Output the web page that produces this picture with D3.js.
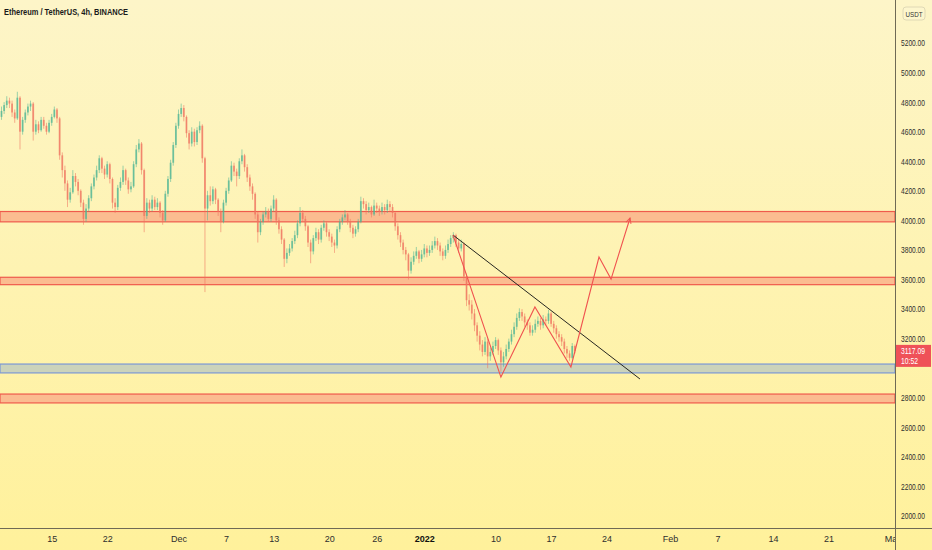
<!DOCTYPE html>
<html>
<head>
<meta charset="utf-8">
<script src="https://cdn.jsdelivr.net/npm/d3@7"></script>
<style>
  body { margin: 0; background: #fdf4c4; }
  svg { display: block; }
  .ax text { font-family: "Liberation Sans", Arial, sans-serif; font-size: 9px; fill: #2e2e2e; }
</style>
</head>
<body>
<script>
// ETH/USDT 4h chart, candles at 8h steps
const title = 'Ethereum / TetherUS, 4h, BINANCE'
const firstCandle = Date.UTC(2021, 10, 8, 16)
const stepHours = 8

const opens = [4700,4740,4780,4810,4790,4730,4690,4830,4600,4680,4730,4770,4790,4600,4650,4610,4680,4640,4600,4660,
  4700,4750,4690,4440,4340,4250,4140,4190,4300,4260,4200,4120,4010,4080,4150,4230,4290,4340,4420,4350,
  4310,4380,4280,4120,4090,4220,4260,4340,4270,4210,4230,4380,4480,4520,4340,4030,4120,4080,4140,4090,
  4120,4050,4000,4180,4280,4390,4510,4640,4720,4760,4700,4590,4520,4600,4530,4610,4640,4420,4080,4170,
  4130,4210,4140,4060,3990,4120,4200,4270,4370,4330,4300,4400,4440,4360,4290,4230,4180,4040,3920,3990,
  4040,4060,4010,4080,4140,4000,3940,3870,3740,3780,3810,3860,3900,3980,4050,4010,3960,3850,3790,3880,
  3920,3870,3950,3980,3920,3890,3850,3830,3940,3990,4020,4040,3990,3950,3910,3940,3990,4130,4110,4070,
  4090,4040,4100,4080,4060,4090,4070,4110,4090,4050,3960,3900,3850,3800,3770,3660,3720,3760,3790,3740,
  3770,3810,3780,3800,3830,3860,3830,3790,3760,3800,3840,3880,3900,3850,3810,3840,3620,3460,3430,3370,
  3290,3220,3160,3110,3180,3080,3110,3150,3190,3120,3040,3080,3130,3180,3230,3280,3340,3380,3350,3310,
  3290,3240,3260,3300,3320,3290,3330,3320,3370,3300,3270,3230,3210,3180,3130,3100,3070,3150]
const closes = [4740,4780,4810,4790,4730,4690,4830,4600,4680,4730,4770,4790,4600,4650,4610,4680,4640,4600,4660,4700,
  4750,4690,4440,4340,4250,4140,4190,4300,4260,4200,4120,4010,4080,4150,4230,4290,4340,4420,4350,4310,
  4380,4280,4120,4090,4220,4260,4340,4270,4210,4230,4380,4480,4520,4340,4030,4120,4080,4140,4090,4120,
  4050,4000,4180,4280,4390,4510,4640,4720,4760,4700,4590,4520,4600,4530,4610,4640,4420,4080,4170,4130,
  4210,4140,4060,3990,4120,4200,4270,4370,4330,4300,4400,4440,4360,4290,4230,4180,4040,3920,3990,4040,
  4060,4010,4080,4140,4000,3940,3870,3740,3780,3810,3860,3900,3980,4050,4010,3960,3850,3790,3880,3920,
  3870,3950,3980,3920,3890,3850,3830,3940,3990,4020,4040,3990,3950,3910,3940,3990,4130,4110,4070,4090,
  4040,4100,4080,4060,4090,4070,4110,4090,4050,3960,3900,3850,3800,3770,3660,3720,3760,3790,3740,3770,
  3810,3780,3800,3830,3860,3830,3790,3760,3800,3840,3880,3900,3850,3810,3840,3620,3460,3430,3370,3290,
  3220,3160,3110,3180,3080,3110,3150,3190,3120,3040,3080,3130,3180,3230,3280,3340,3380,3350,3310,3290,
  3240,3260,3300,3320,3290,3330,3320,3370,3300,3270,3230,3210,3180,3130,3100,3070,3150,3117]
const highs = [4770,4800,4840,4830,4810,4750,4870,4840,4700,4750,4790,4810,4800,4680,4670,4700,4700,4660,4680,4720,
  4770,4760,4700,4460,4370,4270,4220,4340,4320,4280,4210,4140,4110,4170,4250,4310,4370,4440,4430,4370,
  4400,4390,4290,4150,4240,4290,4370,4350,4290,4260,4400,4510,4550,4530,4350,4150,4140,4170,4160,4150,
  4130,4070,4200,4300,4410,4530,4660,4750,4790,4780,4710,4610,4630,4620,4630,4670,4650,4430,4200,4230,
  4230,4220,4150,4080,4140,4220,4290,4400,4390,4350,4420,4480,4450,4380,4310,4250,4190,4060,4010,4060,
  4090,4080,4100,4170,4150,4020,3960,3880,3810,3840,3880,3930,4000,4090,4070,4030,3970,3870,3900,3950,
  3940,3970,4000,3990,3940,3910,3870,3960,4010,4040,4070,4050,4010,3970,3960,4010,4160,4150,4130,4120,
  4100,4140,4120,4100,4120,4110,4140,4130,4110,4060,3980,3920,3870,3820,3780,3750,3790,3820,3800,3800,
  3840,3830,3830,3860,3890,3880,3850,3810,3830,3870,3900,3920,3910,3870,3870,3850,3640,3500,3460,3400,
  3310,3250,3190,3210,3200,3140,3180,3210,3200,3140,3110,3160,3200,3260,3310,3370,3405,3400,3370,3330,
  3310,3290,3330,3350,3340,3360,3350,3395,3380,3320,3290,3250,3230,3200,3150,3120,3170,3160]
const lows = [4680,4720,4760,4760,4700,4660,4680,4480,4580,4660,4710,4740,4540,4580,4590,4600,4620,4580,4590,4640,
  4690,4660,4410,4290,4200,4090,4120,4180,4230,4170,4090,3970,3990,4060,4130,4210,4270,4320,4320,4280,
  4290,4250,4080,4050,4070,4200,4240,4240,4180,4190,4220,4360,4460,4310,3920,4010,4050,4060,4070,4070,
  4020,3970,3990,4160,4260,4370,4490,4620,4700,4670,4560,4480,4500,4500,4510,4590,4390,3515,4000,4100,
  4110,4110,4030,3920,3980,4100,4180,4260,4300,4230,4280,4380,4330,4260,4200,4140,4010,3850,3900,3970,
  4020,3990,3990,4060,3970,3910,3840,3685,3710,3760,3790,3840,3880,3960,3990,3930,3820,3710,3770,3860,
  3840,3850,3930,3890,3860,3820,3780,3810,3920,3970,4000,3970,3920,3880,3890,3920,3980,4080,4040,4050,
  4020,4030,4050,4030,4040,4040,4050,4060,4020,3930,3870,3820,3770,3730,3600,3640,3700,3740,3710,3720,
  3750,3750,3760,3780,3810,3800,3760,3730,3740,3780,3820,3850,3820,3780,3790,3590,3420,3390,3330,3250,
  3180,3120,3080,3090,3000,3050,3090,3130,3090,2975,3010,3060,3110,3160,3210,3260,3320,3320,3280,3260,
  3220,3220,3240,3280,3260,3270,3290,3300,3280,3240,3200,3180,3150,3100,3070,3050,3060,3100]

// horizontal zones [low, high]
const supplyZones = [[3990, 4060], [3565, 3615], [2765, 2825]]
const supportZone = [2968, 3028]

// descending trendline and projected path
const trendLine = [['2022-01-04T15:00', 3901], ['2022-01-28T05:00', 2927]]
const pathPoints = [['2022-01-04T15:00', 3901], ['2022-01-10T16:00', 2940], ['2022-01-14T23:00', 3414],
  ['2022-01-19T12:00', 3008], ['2022-01-23T01:00', 3752], ['2022-01-24T13:30', 3603], ['2022-01-26T23:00', 4016]]

// 3000 and 5400 sit under the price tag and the currency tag
const yTicks = [2000,2200,2400,2600,2800,3200,3400,3600,3800,4000,4200,4400,4600,4800,5000,5200]
const xTickDates = ['2021-11-15','2021-11-22','2021-12-01','2021-12-07','2021-12-13','2021-12-20','2021-12-26',
  '2022-01-01','2022-01-10','2022-01-17','2022-01-24','2022-02-01','2022-02-07','2022-02-14','2022-02-21','2022-03-01']
const xTickLabels = ['15','22','Dec','7','13','20','26','2022','10','17','24','Feb','7','14','21','Mar']
const lastPrice = 3117.09
const countdown = '10:52'

const w = 932, h = 550
const plotW = 895, plotH = 528
const narrow = '"Liberation Sans", Arial, sans-serif'

const svg = d3.select('body').append('svg').attr('width', w).attr('height', h)
const defs = svg.append('defs')
const grad = defs.append('linearGradient').attr('id', 'bg').attr('x1', 0).attr('y1', 0).attr('x2', 0).attr('y2', 1)
grad.append('stop').attr('offset', '0%').attr('stop-color', '#fdf5c8')
grad.append('stop').attr('offset', '100%').attr('stop-color', '#fff19b')
defs.append('clipPath').attr('id', 'plot').append('rect').attr('width', plotW).attr('height', plotH)
defs.append('clipPath').attr('id', 'xlab').append('rect').attr('width', plotW).attr('height', h)
defs.append('marker').attr('id', 'arrow').attr('viewBox', '0 0 10 10').attr('refX', 9).attr('refY', 5)
  .attr('markerWidth', 6).attr('markerHeight', 6).attr('orient', 'auto-start-reverse')
  .append('path').attr('d', 'M1,1 L9,5 L1,9').attr('fill', 'none').attr('stroke', '#f0524f').attr('stroke-width', 1.4)

svg.append('rect').attr('width', w).attr('height', h).attr('fill', 'url(#bg)')

const xScale = d3.scaleUtc().domain([Date.UTC(2021, 10, 15), Date.UTC(2022, 1, 1)]).range([51.7, 670])
const yScale = d3.scaleLinear().domain([2000, 5200]).range([516, 43])
const candleDate = i => new Date(firstCandle + i * stepHours * 3600e3)
const parse = s => new Date(s + 'Z')

const plot = svg.append('g').attr('clip-path', 'url(#plot)')

// zones
plot.selectAll('rect.zone')
  .data(supplyZones)
  .enter()
  .append('rect')
  .attr('class', 'zone')
  .attr('x', 0)
  .attr('width', plotW)
  .attr('y', d => yScale(d[1]))
  .attr('height', d => yScale(d[0]) - yScale(d[1]))
  .attr('fill', '#fbbc90')
  .attr('stroke', '#ef5a4c')
  .attr('stroke-width', 1.2)
plot.append('rect')
  .attr('x', 0)
  .attr('width', plotW)
  .attr('y', yScale(supportZone[1]))
  .attr('height', yScale(supportZone[0]) - yScale(supportZone[1]))
  .attr('fill', '#cbd3bb')
  .attr('stroke', '#7b98d4')
  .attr('stroke-width', 1.2)

// candles
const candles = plot.append('g')
  .selectAll('g')
  .data(closes)
  .enter()
  .append('g')
const color = (d, i) => d >= opens[i] ? '#4fb594' : '#f0735f'
candles.append('line')
  .attr('x1', (d, i) => xScale(candleDate(i)))
  .attr('x2', (d, i) => xScale(candleDate(i)))
  .attr('y1', (d, i) => yScale(highs[i]))
  .attr('y2', (d, i) => yScale(lows[i]))
  .attr('stroke', color)
  .attr('stroke-width', 0.8)
  .attr('opacity', 0.7)
candles.append('rect')
  .attr('x', (d, i) => xScale(candleDate(i)) - 0.9)
  .attr('width', 1.8)
  .attr('y', (d, i) => yScale(Math.max(d, opens[i])))
  .attr('height', (d, i) => Math.max(0.8, Math.abs(yScale(d) - yScale(opens[i]))))
  .attr('fill', color)
  .attr('opacity', 0.7)

// drawings
const line = d3.line().x(d => xScale(parse(d[0]))).y(d => yScale(d[1]))
plot.append('path').attr('d', line(trendLine)).attr('fill', 'none').attr('stroke', '#262620').attr('stroke-width', 1)
plot.append('path').attr('d', line(pathPoints)).attr('fill', 'none').attr('stroke', '#f0524f')
  .attr('stroke-width', 1.1).attr('marker-end', 'url(#arrow)')

// axes
const yAxis = d3.axisRight(yScale).tickValues(yTicks).tickSize(0).tickPadding(6).tickFormat(d => d.toFixed(2))
const yg = svg.append('g').attr('class', 'ax').attr('transform', 'translate(' + plotW + ',0)').call(yAxis)
yg.select('.domain').remove()
yg.selectAll('text').attr('textLength', 24).attr('lengthAdjust', 'spacingAndGlyphs')
const xAxis = d3.axisBottom(xScale).tickValues(xTickDates.map(parse)).tickSize(0).tickPadding(8)
  .tickFormat((d, i) => xTickLabels[i])
const xg = svg.append('g').attr('class', 'ax').attr('clip-path', 'url(#xlab)')
  .append('g').attr('transform', 'translate(0,' + plotH + ')').call(xAxis)
xg.select('.domain').remove()
xg.selectAll('text').filter((d, i) => xTickLabels[i] === '2022').style('font-weight', 'bold').style('fill', '#111')

svg.append('line').attr('x1', 0).attr('x2', w).attr('y1', plotH + 0.5).attr('y2', plotH + 0.5)
  .attr('stroke', '#6f6a55').attr('stroke-width', 1)
svg.append('line').attr('x1', plotW + 0.5).attr('x2', plotW + 0.5).attr('y1', 0).attr('y2', h)
  .attr('stroke', '#6f6a55').attr('stroke-width', 1)

// currency tag
svg.append('rect').attr('x', 903).attr('y', 7).attr('width', 22).attr('height', 13).attr('rx', 3)
  .attr('fill', '#fdf6cd').attr('stroke', '#d8d2b0').attr('stroke-width', 0.8)
svg.append('text').attr('x', 914).attr('y', 16.5).attr('text-anchor', 'middle')
  .attr('textLength', 17).attr('lengthAdjust', 'spacingAndGlyphs')
  .style('font-family', narrow).style('font-size', '8px').style('fill', '#333').text('USDT')

// last price tag
const py = yScale(lastPrice)
svg.append('rect').attr('x', plotW + 1).attr('y', py - 6).attr('width', 35).attr('height', 22)
  .attr('fill', '#ef5158')
svg.append('text').attr('x', plotW + 6).attr('y', py + 3.5)
  .attr('textLength', 24).attr('lengthAdjust', 'spacingAndGlyphs')
  .style('font-family', narrow).style('font-size', '9px').style('fill', '#fff').text(lastPrice.toFixed(2))
svg.append('text').attr('x', plotW + 6).attr('y', py + 13)
  .attr('textLength', 17).attr('lengthAdjust', 'spacingAndGlyphs')
  .style('font-family', narrow).style('font-size', '9px').style('fill', '#fff').text(countdown)

svg.append('text').attr('x', 4).attr('y', 15)
  .attr('textLength', 124).attr('lengthAdjust', 'spacingAndGlyphs')
  .style('font-family', narrow).style('font-size', '9.5px').style('font-weight', 'bold')
  .style('fill', '#1a1a1a').text(title)
</script>
</body>
</html>
